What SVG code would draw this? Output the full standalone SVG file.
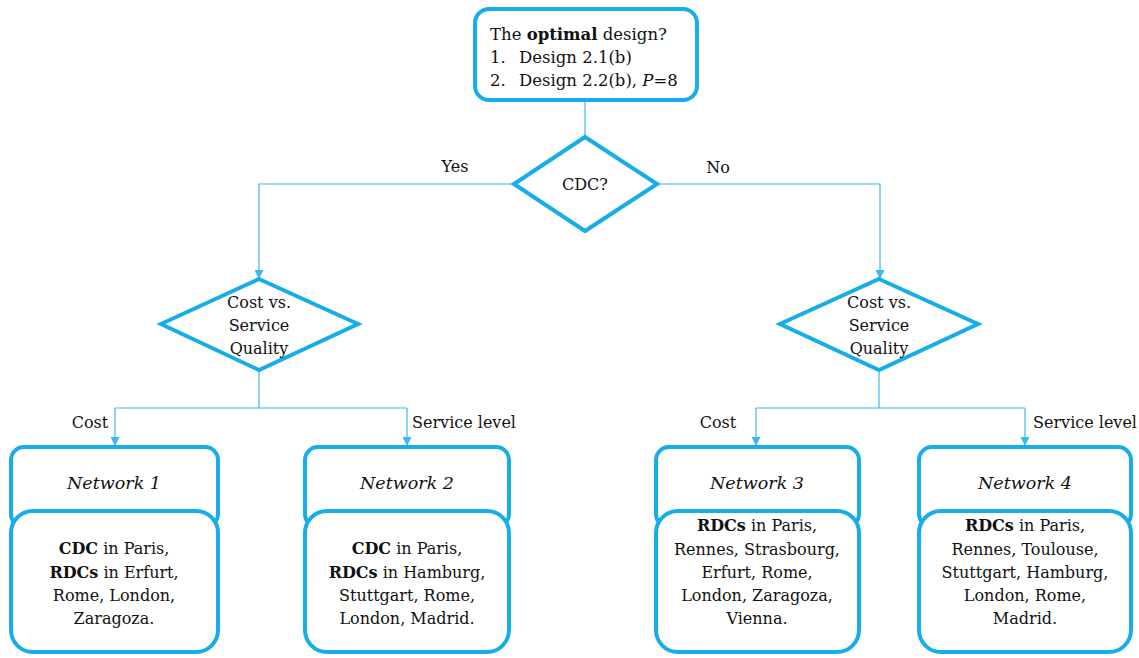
<svg xmlns="http://www.w3.org/2000/svg" width="1139" height="658" viewBox="0 0 1139 658">
  <style>
    .node { fill: #ffffff; stroke: #17ADE8; stroke-width: 4; }
    .conn { fill: none; stroke: #3DB8EC; stroke-width: 1.2; }
    text { font-family: "DejaVu Serif", "Liberation Serif", serif; font-size: 16px; fill: #111; }
    .c { text-anchor: middle; }
    .b { font-weight: bold; }
    .i { font-style: italic; }
    .t { font-size: 17.5px; font-style: italic; }
    .q { font-size: 16.5px; }
  </style>
  <defs>
    <marker id="arrow" viewBox="0 0 10 10" refX="10" refY="5" markerWidth="9" markerHeight="9" markerUnits="userSpaceOnUse" orient="auto">
      <path d="M0,0 L10,5 L0,10 z" fill="#3DB8EC"/>
    </marker>
  </defs>

  <!-- connectors -->
  <g id="connectors">
    <path class="conn" d="M585,100 V137"/>
    <path class="conn" d="M514,184 H259 V279" marker-end="url(#arrow)"/>
    <path class="conn" d="M657,184 H880 V279" marker-end="url(#arrow)"/>
    <path class="conn" d="M259,370 V408"/>
    <path class="conn" d="M115,408 H407"/>
    <path class="conn" d="M115,408 V446" marker-end="url(#arrow)"/>
    <path class="conn" d="M407,408 V446" marker-end="url(#arrow)"/>
    <path class="conn" d="M879,370 V408"/>
    <path class="conn" d="M756,408 H1025"/>
    <path class="conn" d="M756,408 V446" marker-end="url(#arrow)"/>
    <path class="conn" d="M1025,408 V446" marker-end="url(#arrow)"/>
    <text x="455" y="172" class="c">Yes</text>
    <text x="718" y="173" class="c">No</text>
    <text x="90" y="428" class="c">Cost</text>
    <text x="464" y="428" class="c">Service level</text>
    <text x="718" y="428" class="c">Cost</text>
    <text x="1085" y="428" class="c">Service level</text>
  </g>

  <!-- question box -->
  <g id="question">
    <rect class="node" x="475" y="9" width="222" height="91" rx="14"/>
    <text x="490" y="40" class="q">The <tspan class="b">optimal</tspan> design?</text>
    <text x="490" y="63" class="q">1.</text>
    <text x="519" y="63" class="q">Design 2.1(b)</text>
    <text x="490" y="86" class="q">2.</text>
    <text x="519" y="86" class="q">Design 2.2(b), <tspan class="i">P</tspan>=8</text>
  </g>

  <!-- CDC decision -->
  <g id="cdc">
    <polygon class="node" points="585,137 657,184 585,231 514,184"/>
    <text x="585" y="190" class="c">CDC?</text>
  </g>

  <!-- cost vs. service decisions -->
  <g id="tradeoff-left">
    <polygon class="node" points="259,279 358,324 259,370 161,324"/>
    <text x="259" y="308" class="c">Cost vs.</text>
    <text x="259" y="331" class="c">Service</text>
    <text x="259" y="354" class="c">Quality</text>
  </g>
  <g id="tradeoff-right">
    <polygon class="node" points="879,279 978,324 879,370 780,324"/>
    <text x="879" y="308" class="c">Cost vs.</text>
    <text x="879" y="331" class="c">Service</text>
    <text x="879" y="354" class="c">Quality</text>
  </g>

  <!-- network 1 -->
  <g id="network1">
    <rect class="node" x="11" y="447" width="207" height="80" rx="13"/>
    <rect class="node" x="11" y="511" width="207" height="141" rx="22"/>
    <text x="114" y="489" class="c t">Network 1</text>
    <text x="114" y="554" class="c"><tspan class="b">CDC</tspan> in Paris,</text>
    <text x="114" y="578" class="c"><tspan class="b">RDCs</tspan> in Erfurt,</text>
    <text x="114" y="601" class="c">Rome, London,</text>
    <text x="114" y="624" class="c">Zaragoza.</text>
  </g>

  <!-- network 2 -->
  <g id="network2">
    <rect class="node" x="305" y="447" width="204" height="80" rx="13"/>
    <rect class="node" x="305" y="511" width="204" height="141" rx="22"/>
    <text x="407" y="489" class="c t">Network 2</text>
    <text x="407" y="554" class="c"><tspan class="b">CDC</tspan> in Paris,</text>
    <text x="407" y="578" class="c"><tspan class="b">RDCs</tspan> in Hamburg,</text>
    <text x="407" y="601" class="c">Stuttgart, Rome,</text>
    <text x="407" y="624" class="c">London, Madrid.</text>
  </g>

  <!-- network 3 -->
  <g id="network3">
    <rect class="node" x="656" y="447" width="203" height="80" rx="13"/>
    <rect class="node" x="656" y="511" width="203" height="141" rx="22"/>
    <text x="757" y="489" class="c t">Network 3</text>
    <text x="757" y="531" class="c"><tspan class="b">RDCs</tspan> in Paris,</text>
    <text x="757" y="555" class="c">Rennes, Strasbourg,</text>
    <text x="757" y="578" class="c">Erfurt, Rome,</text>
    <text x="757" y="601" class="c">London, Zaragoza,</text>
    <text x="757" y="624" class="c">Vienna.</text>
  </g>

  <!-- network 4 -->
  <g id="network4">
    <rect class="node" x="919" y="447" width="212" height="80" rx="13"/>
    <rect class="node" x="919" y="511" width="212" height="141" rx="22"/>
    <text x="1025" y="489" class="c t">Network 4</text>
    <text x="1025" y="531" class="c"><tspan class="b">RDCs</tspan> in Paris,</text>
    <text x="1025" y="555" class="c">Rennes, Toulouse,</text>
    <text x="1025" y="578" class="c">Stuttgart, Hamburg,</text>
    <text x="1025" y="601" class="c">London, Rome,</text>
    <text x="1025" y="624" class="c">Madrid.</text>
  </g>
</svg>
